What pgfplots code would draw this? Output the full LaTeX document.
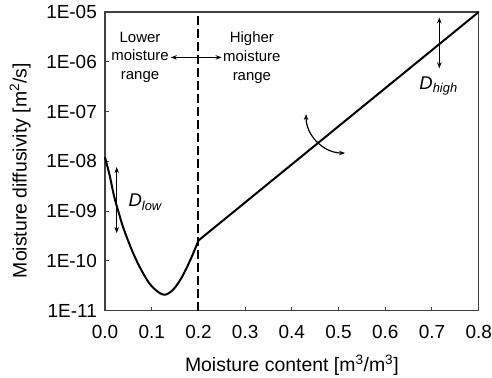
\documentclass[border=0pt]{standalone}
\usepackage{pgfplots}
\pgfplotsset{compat=1.18}
\usepackage{fontspec}
\setmainfont{Liberation Sans}
\usetikzlibrary{arrows.meta}
\begin{document}
\begin{tikzpicture}[>={Stealth[length=6bp,width=4.5bp]}]
\begin{axis}[
  scale only axis, width=373.7bp, height=298.7bp,
  xmin=0, xmax=0.8, ymode=log, ymin=1e-11, ymax=1e-5,
  axis line style={black!75, line width=1.2bp},
  tick style={black!75, line width=1bp},
  tick align=inside, major tick length=4bp, tick pos=left,
  xtick={0,0.1,0.2,0.3,0.4,0.5,0.6,0.7,0.8},
  xticklabels={0.0,0.1,0.2,0.3,0.4,0.5,0.6,0.7,0.8},
  ytick={1e-11,1e-10,1e-9,1e-8,1e-7,1e-6,1e-5},
  yticklabels={1E-11,1E-10,1E-09,1E-08,1E-07,1E-06,1E-05},
  minor ytick={}, 
  yminorticks=false,
  xticklabel style={font=\fontsize{19}{22}\selectfont, inner sep=0pt, anchor=north, yshift=-14.5bp},
  yticklabel style={font=\fontsize{19}{22}\selectfont, inner sep=0pt, anchor=east, xshift=-8bp},
  xlabel={Moisture content [m\textsuperscript{3}/m\textsuperscript{3}]},
  ylabel={Moisture diffusivity [m\textsuperscript{2}/s]},
  label style={font=\fontsize{19.5}{23}\selectfont, inner sep=0pt},
  xlabel style={at={(axis description cs:0.5,-0.2042)}, anchor=base},
  ylabel style={at={(axis description cs:-0.2095,0.469)}, anchor=base},
  clip=false,
]
\addplot[black, line width=2bp, smooth, tension=0.55] coordinates {
(0,1.2e-8) (0.01,5.2e-9) (0.02,1.9e-9) (0.03,8.9e-10) (0.04,4.4e-10)
(0.06,1.45e-10) (0.08,6.0e-11) (0.10,3.1e-11) (0.125,2.1e-11)
(0.145,2.6e-11) (0.165,4.8e-11) (0.185,1.17e-10) (0.2,2.57e-10)
};
\addplot[black, line width=2bp] coordinates {(0.2,2.57e-10) (0.8,1e-5)};
\addplot[black, line width=2bp, dash pattern=on 9bp off 4bp] coordinates {(0.2,1e-11) (0.2,1e-5)};
% annotations
\node[align=center, font=\fontsize{15}{19}\selectfont, inner sep=0pt] at (rel axis cs:0.0937,0.848) {Lower\\moisture\\range};
\node[align=center, font=\fontsize{15}{19}\selectfont, inner sep=0pt] at (rel axis cs:0.393,0.848) {Higher\\moisture\\range};
\draw[<->, line width=1.2bp] (rel axis cs:0.176,0.848) -- (rel axis cs:0.312,0.848);
\draw[<->, line width=1.2bp] (rel axis cs:0.0313,0.481) -- (rel axis cs:0.0313,0.260);
\node[anchor=base west, inner sep=0pt, font=\fontsize{18.5}{21}\selectfont] at (rel axis cs:0.0626,0.348) {\textit{D}\textsubscript{\textit{low}}};
\draw[<->, line width=1.2bp] (rel axis cs:0.8946,0.982) -- (rel axis cs:0.8946,0.8115);
\node[anchor=base west, inner sep=0pt, font=\fontsize{18.5}{21}\selectfont] at (rel axis cs:0.841,0.741) {\textit{D}\textsubscript{\textit{high}}};
\draw[<->, line width=1.2bp] (rel axis cs:0.538,0.6585) arc[start angle=180, end angle=270, radius=39bp];
\end{axis}
\pgfresetboundingbox
\useasboundingbox (-105bp,-67.3bp) rectangle (387bp,310.7bp);
\end{tikzpicture}
\end{document}
